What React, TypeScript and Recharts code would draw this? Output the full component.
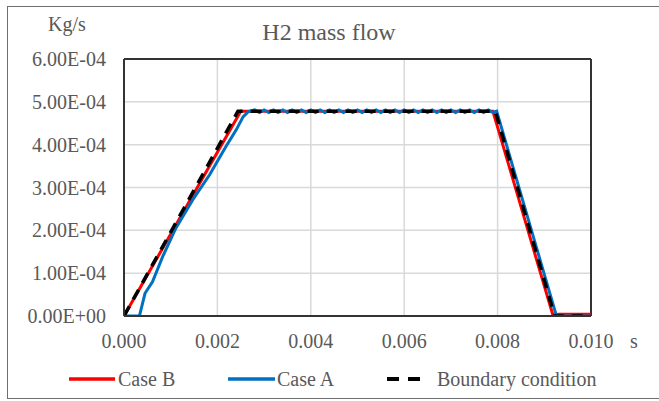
import React from "react";
import { LineChart, Line, XAxis, YAxis, CartesianGrid, ReferenceLine } from "recharts";

// Time axis ticks (s) and flow axis ticks (kg/s)
const xTicks = [0, 0.002, 0.004, 0.006, 0.008, 0.01];
const yTicks = [0, 0.0001, 0.0002, 0.0003, 0.0004, 0.0005, 0.0006];

// Case B (red)
const caseBTime = [0, 0.0025, 0.0079, 0.00919, 0.0093, 0.01];
const caseBFlow = [0, 0.000478, 0.000478, 0, 0.000004, 0.000004];

// Case A (blue)
const caseATime = [
  0, 0.00033, 0.00045, 0.00061, 0.00083, 0.00111, 0.00147, 0.00183, 0.00218, 0.0024, 0.00255, 0.00266,
  0.0028, 0.0029, 0.003, 0.0031, 0.0032, 0.0033, 0.0034, 0.0035, 0.0036, 0.0037, 0.0038, 0.0039,
  0.004, 0.0041, 0.0042, 0.0043, 0.0044, 0.0045, 0.0046, 0.0047, 0.0048, 0.0049, 0.005, 0.0051,
  0.0052, 0.0053, 0.0054, 0.0055, 0.0056, 0.0057, 0.0058, 0.0059, 0.006, 0.0061, 0.0062, 0.0063,
  0.0064, 0.0065, 0.0066, 0.0067, 0.0068, 0.0069, 0.007, 0.0071, 0.0072, 0.0073, 0.0074, 0.0075,
  0.0076, 0.0077, 0.0078, 0.0079, 0.00798, 0.00926, 0.0095, 0.01,
];
const caseAFlow = [
  0, 0, 0.000053, 0.00008, 0.000139, 0.000205, 0.000271, 0.000329, 0.000395, 0.000434, 0.000465, 0.000477,
  0.000481, 0.000475, 0.000481, 0.000475, 0.000481, 0.000475, 0.000481, 0.000475, 0.000481, 0.000475, 0.000481, 0.000475,
  0.000481, 0.000475, 0.000481, 0.000475, 0.000481, 0.000475, 0.000481, 0.000475, 0.000481, 0.000475, 0.000481, 0.000475,
  0.000481, 0.000475, 0.000481, 0.000475, 0.000481, 0.000475, 0.000481, 0.000475, 0.000481, 0.000475, 0.000481, 0.000475,
  0.000481, 0.000475, 0.000481, 0.000475, 0.000481, 0.000475, 0.000481, 0.000475, 0.000481, 0.000475, 0.000481, 0.000475,
  0.000481, 0.000475, 0.000481, 0.000475, 0.000478, 0, 0, 0,
];

// Boundary condition (black dashed)
const boundaryTime = [0, 0.00244, 0.00795, 0.00922, 0.01];
const boundaryFlow = [0, 0.000478, 0.000478, 0, 0];

const toPoints = (t: number[], v: number[]) => t.map((x, i) => ({ t: x, v: v[i] }));
const caseB = toPoints(caseBTime, caseBFlow);
const caseA = toPoints(caseATime, caseAFlow);
const boundary = toPoints(boundaryTime, boundaryFlow);

const FONT = "Liberation Serif";
const TEXT = "#595959";

const fmtY = (v: number) => {
  const [m, e] = v.toExponential(2).split("e");
  const sign = e.startsWith("-") ? "-" : "+";
  const num = e.replace(/[-+]/, "").padStart(2, "0");
  return `${m}E${sign}${num}`;
};
const fmtX = (v: number) => v.toFixed(3);

const legendItems = [
  { label: "Case B", color: "#ff0000", dash: undefined as string | undefined, lineX: 69, lineW: 46, textX: 118 },
  { label: "Case A", color: "#0070c0", dash: undefined as string | undefined, lineX: 228, lineW: 47, textX: 277 },
  { label: "Boundary condition", color: "#000000", dash: "12 9", lineX: 387, lineW: 35, textX: 437 },
];

export default function App() {
  return (
    <div style={{ position: "absolute", left: 0, top: 0, width: 659, height: 401, background: "#fff", overflow: "hidden", fontFamily: FONT }}>
      <div
        style={{
          position: "absolute",
          left: 7,
          top: 6,
          width: 680,
          height: 393,
          border: "1.5px solid #6f6f6f",
          boxSizing: "border-box",
        }}
      />
      <LineChart width={659} height={401} data={caseA} margin={{ top: 59, right: 68, left: 0, bottom: 55 }}>
        <CartesianGrid stroke="#d9d9d9" strokeWidth={1.5} />
        <XAxis
          dataKey="t"
          type="number"
          domain={[0, 0.01]}
          ticks={xTicks}
          tickFormatter={fmtX}
          allowDataOverflow
          height={30}
          tickLine={false}
          tickSize={6}
          tickMargin={12}
          axisLine={{ stroke: "#333", strokeWidth: 2 }}
          tick={{ fill: TEXT, fontSize: 20, fontFamily: FONT }}
        />
        <YAxis
          dataKey="v"
          type="number"
          domain={[0, 0.0006]}
          ticks={yTicks}
          tickFormatter={fmtY}
          allowDataOverflow
          width={124}
          tickLine={false}
          tickSize={6}
          tickMargin={12}
          axisLine={{ stroke: "#333", strokeWidth: 2 }}
          tick={{ fill: TEXT, fontSize: 20, fontFamily: FONT }}
        />
        <ReferenceLine y={0.0006} stroke="#333" strokeWidth={2} />
        <ReferenceLine x={0.01} stroke="#333" strokeWidth={2} />
        <Line data={caseB} dataKey="v" stroke="#ff0000" strokeWidth={3} dot={false} isAnimationActive={false} type="linear" />
        <Line data={caseA} dataKey="v" stroke="#0070c0" strokeWidth={3} dot={false} isAnimationActive={false} type="linear" />
        <Line data={boundary} dataKey="v" stroke="#000000" strokeWidth={3.5} strokeDasharray="11 8" dot={false} isAnimationActive={false} type="linear" />
        <text x={67} y={24} textAnchor="middle" dominantBaseline="central" fill={TEXT} fontSize={20} fontFamily={FONT}>Kg/s</text>
        <text x={329} y={32} textAnchor="middle" dominantBaseline="central" fill={TEXT} fontSize={24} fontFamily={FONT}>H2 mass flow</text>
        <text x={634} y={341} textAnchor="middle" dominantBaseline="central" fill={TEXT} fontSize={20} fontFamily={FONT}>s</text>
      </LineChart>
      <svg style={{ position: "absolute", left: 0, top: 360 }} width={659} height={40}>
        {legendItems.map((it) => (
          <g key={it.label}>
            <line x1={it.lineX} x2={it.lineX + it.lineW} y1={19} y2={19} stroke={it.color} strokeWidth={it.dash ? 4 : 3.5} strokeDasharray={it.dash} />
            <text x={it.textX} y={19} dominantBaseline="central" fill={TEXT} fontSize={20} fontFamily={FONT}>{it.label}</text>
          </g>
        ))}
      </svg>
    </div>
  );
}
